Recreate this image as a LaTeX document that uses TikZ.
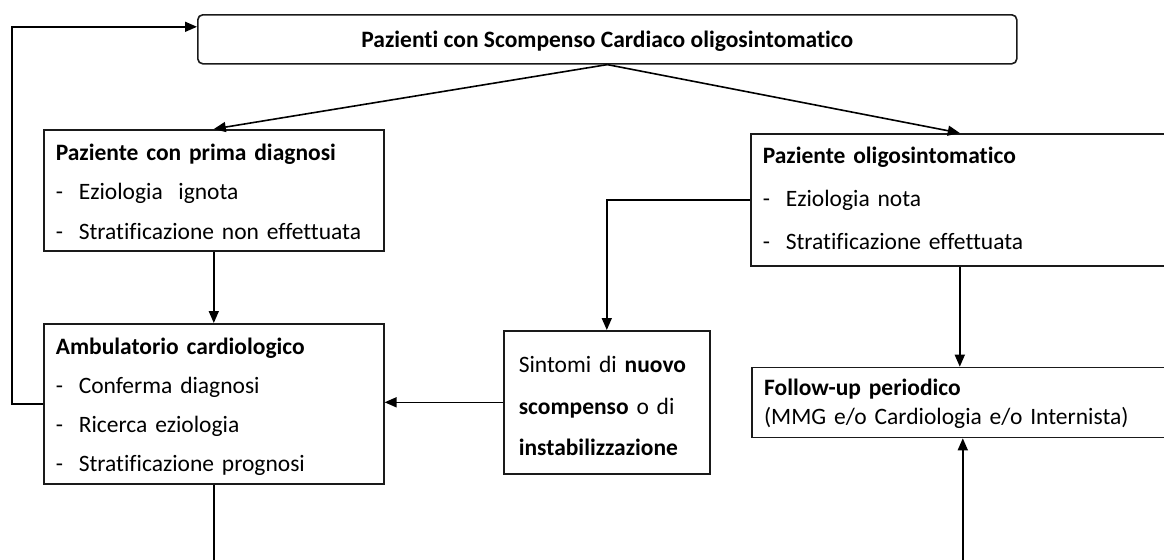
\documentclass[tikz,border=0pt]{standalone}
\usepackage{fontspec}
\setmainfont{Carlito}[Ligatures={NoCommon}]
\usepackage{xcolor}
\usepackage{tikz}
\usetikzlibrary{calc,arrows.meta}
\definecolor{bordo}{HTML}{1A1A1A}
\newcommand{\trattino}{\makebox[11.5pt][l]{-}}
\tikzset{
  box/.style={draw=bordo, line width=0.8pt, anchor=north west, align=left,
    inner xsep=6pt, inner ysep=0pt, font=\fontsize{11.75}{19.5}\selectfont},
  titolo/.style={box, rounded corners=2.5pt, align=center, inner xsep=0pt,
    font=\fontsize{11.75}{14}\selectfont\bfseries},
  linea/.style={draw=black, line width=0.8pt},
  freccia/.style={linea, -{Triangle[length=6pt,width=5pt]}},
}

\begin{document}
\begin{tikzpicture}[x=0.5pt,y=-0.5pt]
  \useasboundingbox (0,0) rectangle (1164,559);
  \clip (0,0) rectangle (1164,559);
  \coordinate (basso) at (0,565);

  \node[titolo, minimum width=409.5pt, text height=16.35pt, text depth=8.15pt] (top) at (197,14)
    {Pazienti con Scompenso Cardiaco oligosintomatico};

  \node[box, text width=158pt, text height=15.25pt, text depth=45.25pt,
    font=\fontsize{11.75}{19.75}\selectfont] (prima) at (43,129)
    {\textbf{Paziente con prima diagnosi}\\
     \trattino Eziologia\ \ ignota\\
     \trattino Stratificazione non effettuata};

  \node[box, text width=197pt, text height=14.85pt, text depth=51.15pt,
    font=\fontsize{11.75}{21.5}\selectfont] (oligo) at (750,133)
    {\textbf{Paziente oligosintomatico}\\
     \trattino Eziologia nota\\
     \trattino Stratificazione effettuata};

  \node[box, text width=158pt, text height=15.15pt, text depth=64.85pt] (amb) at (43,323)
    {\textbf{Ambulatorio cardiologico}\\
     \trattino Conferma diagnosi\\
     \trattino Ricerca eziologia\\
     \trattino Stratificazione prognosi};

  \node[box, inner xsep=7.5pt, text width=88pt, text height=20.85pt, text depth=50.65pt,
    font=\fontsize{11.75}{20.8}\selectfont] (sint) at (503,330)
    {Sintomi di \textbf{nuovo}\\
     \textbf{scompenso} o di\\
     \textbf{instabilizzazione}};

  \node[box, inner xsep=6.15pt, text width=198.7pt, text height=14.15pt, text depth=20.85pt,
    font=\fontsize{11.75}{14.5}\selectfont] (fu) at (751,366.7)
    {\textbf{Follow-up periodico}\\
     (MMG e/o Cardiologia e/o Internista)};

  \draw[freccia] (top.south) -- (prima.north);
  \draw[freccia] (top.south) -- (oligo.north);
  \draw[freccia] (prima.south) -- (amb.north);
  \draw[freccia] (amb.west) -- ++(-31,0) |- ([yshift=6.25pt]top.west);
  \draw[freccia] (oligo.west) -| (sint.north);
  \draw[freccia] (sint.west) -- (sint.west -| amb.east);
  \draw[freccia] (oligo.south) -- (oligo.south |- fu.north);
  \draw[linea] (amb.south) -- (amb.south |- basso);
  \draw[freccia] (fu.south |- basso) -- (fu.south);
\end{tikzpicture}
\end{document}
